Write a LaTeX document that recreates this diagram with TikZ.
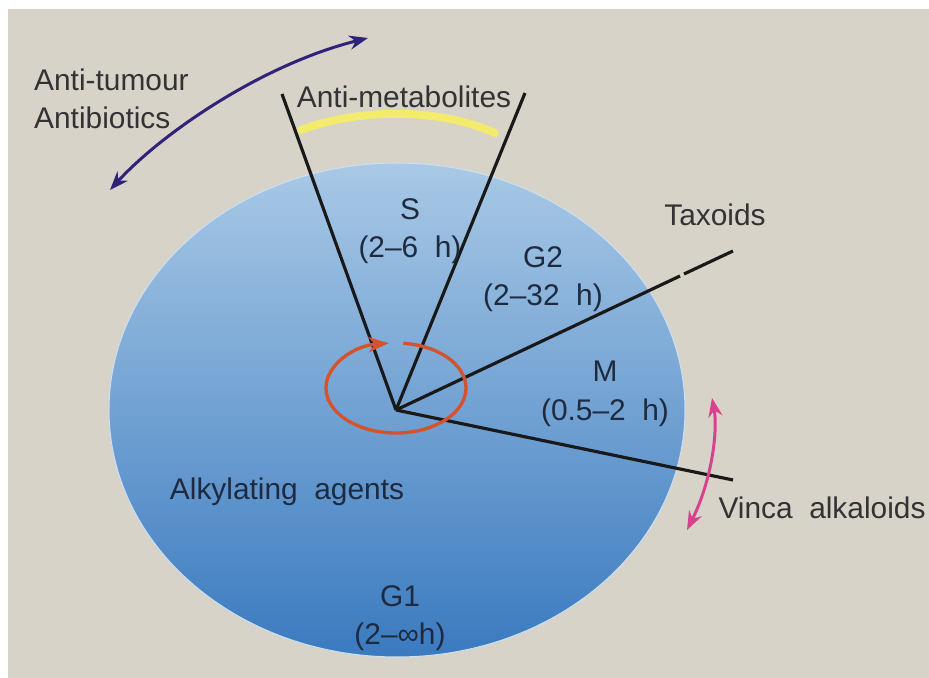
\documentclass[tikz,border=0pt]{standalone}
\usepackage{fontspec}
\setmainfont{Liberation Sans}
\usetikzlibrary{arrows.meta}
\definecolor{bgGray}{HTML}{D7D3C9}
\definecolor{cellTop}{HTML}{A9C9E6}
\definecolor{cellBottom}{HTML}{3A7ABF}
\definecolor{labelInk}{HTML}{1E2A40}
\definecolor{tumourBlue}{HTML}{2E2377}
\definecolor{vincaPink}{HTML}{D8428C}
\definecolor{alkylRed}{HTML}{D4522C}
\definecolor{metaYellow}{HTML}{F2EB6B}
\newcommand{\PhaseLabel}[3]{\node[phase](#1) at (#2){#3};}

\begin{document}
\begin{tikzpicture}[
    x=0.02cm, y=-0.02cm,
    >=Stealth,
    phase/.style={text=labelInk, align=center,
      font=\fontsize{17}{22}\selectfont},
    drug/.style={text=black!80, align=left,
      font=\fontsize{17}{22}\selectfont},
    spoke/.style={line width=1.8pt, draw=black!90},
    ]
    \useasboundingbox (0,0) rectangle (929,678);
    \fill[white] (0,0) rectangle (929,678);
    \fill[bgGray] (8,9) rectangle (929,678);

    % the cell
    \shade[top color=cellTop, bottom color=cellBottom,
      draw=cellTop!60!white, line width=0.6pt]
      (397,410) ellipse [x radius=288, y radius=247];

    \coordinate (c)   at (396,410);
    \coordinate (rc)  at (396,388);
    \coordinate (s1)  at (282,94);
    \coordinate (s2)  at (525,93);
    \coordinate (tx1) at (680,276);
    \coordinate (tx2) at (684,274);
    \coordinate (tx)  at (733,251);
    \coordinate (vn)  at (733,480);

    % phase boundaries
    \path[spoke]
    (c) edge (s1)
        edge (s2)
        edge (tx1)
        edge (vn)
    (tx2) edge (tx);

    % phases
    \PhaseLabel{S}{410,231}{S\\(2–6~~h)}
    \PhaseLabel{G2}{543,279}{G2\\(2–32~~h)}
    \PhaseLabel{M}{605,394}{M\\(0.5–2~~h)}
    \PhaseLabel{G1}{400,618}{G1\\(2–∞h)}

    % drugs
    \node[drug, anchor=west] (antitum) at (28,99) {Anti-tumour\\Antibiotics};
    \node[drug] (antimet) at (404,97) {Anti-metabolites};
    \node[drug] (taxoids) at (715,215) {Taxoids};
    \node[drug] (vinca)   at (822,508) {Vinca~~alkaloids};
    \node[phase] (alkyl)  at (287,492) {Alkylating~~agents};

    \coordinate (ya)  at (301,130);
    \coordinate (yb)  at (495,133);
    \coordinate (ta)  at (110,190);
    \coordinate (tb)  at (368,38);
    \coordinate (va)  at (687,530);
    \coordinate (vb)  at (712,398);

    \draw[metaYellow, line width=4.5pt, line cap=round]
      (ya) .. controls (360,108) and (440,108) .. (yb);
    \draw[<->, tumourBlue, line width=1.7pt]
      (ta) .. controls (160,135) and (260,65) .. (tb);
    \draw[<->, vincaPink, line width=1.7pt]
      (va) .. controls (712,480) and (718,430) .. (vb);
    \draw[->, alkylRed, line width=1.9pt]
      (rc) ++(-84:70 and 45) arc[start angle=-84, end angle=264,
        x radius=70, y radius=45];
  \end{tikzpicture}
\end{document}
